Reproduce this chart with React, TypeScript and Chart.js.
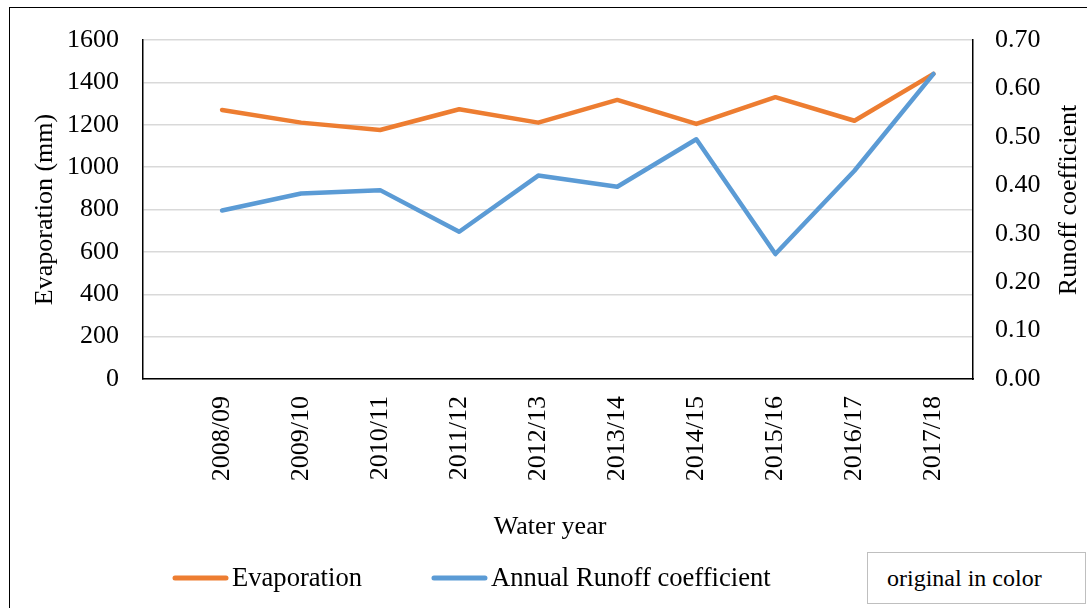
import React, { useEffect, useRef } from 'react';
import { Chart, registerables } from 'chart.js';

Chart.register(...registerables);

const FONT = '"Liberation Serif", "Times New Roman", Times, serif';

const years = ['2008/09', '2009/10', '2010/11', '2011/12', '2012/13', '2013/14', '2014/15', '2015/16', '2016/17', '2017/18'];
const evaporation = [1270, 1210, 1175, 1273, 1210, 1317, 1204, 1330, 1219, 1440];
const runoff = [0.348, 0.383, 0.39, 0.304, 0.42, 0.397, 0.495, 0.258, 0.43, 0.63];
const evapTicks = [0, 200, 400, 600, 800, 1000, 1200, 1400, 1600];
const runoffTicks = [0, 0.1, 0.2, 0.3, 0.4, 0.5, 0.6, 0.7];

const xTitle = 'Water year';
const rightTitle = 'Runoff coefficient';

const ORANGE = '#ED7D31';
const BLUE = '#5B9BD5';

export default function App() {
  const ref = useRef<HTMLCanvasElement>(null);

  useEffect(() => {
    if (!ref.current) return;
    const decorPlugin = {
      id: 'decor',
      afterDraw(chart: any) {
        const ctx = chart.ctx;
        ctx.save();
        // legend
        ctx.font = `26.6px ${FONT}`;
        ctx.textBaseline = 'middle';
        ctx.textAlign = 'left';
        let x = 173;
        const y = 578;
        chart.data.datasets.forEach((ds: any) => {
          ctx.strokeStyle = ds.borderColor;
          ctx.lineWidth = 5;
          ctx.lineCap = 'round';
          ctx.beginPath();
          ctx.moveTo(x + 2, y);
          ctx.lineTo(x + 53, y);
          ctx.stroke();
          ctx.fillStyle = '#000';
          ctx.fillText(ds.label, x + 59, y + 1);
          x += 59 + ctx.measureText(ds.label).width + 70;
        });
        // axis titles
        ctx.font = `26px ${FONT}`;
        ctx.textAlign = 'center';
        ctx.fillStyle = '#000';
        ctx.fillText(xTitle, 550, 527);
        ctx.translate(1069, 200);
        ctx.rotate(-Math.PI / 2);
        ctx.fillText(rightTitle, 0, 0);
        ctx.restore();
      },
    };

    const chart = new Chart(ref.current, {
      type: 'line',
      data: {
        datasets: [
          {
            label: 'Evaporation',
            data: evaporation.map((v, i) => ({ x: i, y: v })),
            borderColor: ORANGE,
            backgroundColor: ORANGE,
            borderWidth: 4.5,
            pointRadius: 0,
            borderCapStyle: 'round',
            borderJoinStyle: 'round',
            tension: 0,
            yAxisID: 'y',
            order: 1,
          },
          {
            label: 'Annual Runoff coefficient',
            data: runoff.map((v, i) => ({ x: i, y: v })),
            borderColor: BLUE,
            backgroundColor: BLUE,
            borderWidth: 4.5,
            pointRadius: 0,
            borderCapStyle: 'round',
            borderJoinStyle: 'round',
            tension: 0,
            yAxisID: 'y1',
            order: 0,
          },
        ],
      },
      options: {
        responsive: false,
        animation: false,
        devicePixelRatio: 1,
        layout: { padding: { top: 40, left: 0, right: 0, bottom: 0 } },
        plugins: {
          legend: { display: false },
          tooltip: { enabled: false },
        },
        scales: {
          x: {
            type: 'linear',
            position: 'bottom',
            min: -1,
            max: 9.5,
            afterBuildTicks: (scale: any) => {
              scale.ticks = years.map((_, i) => ({ value: i }));
            },
            afterFit: (scale: any) => {
              scale.height = 229;
            },
            ticks: {
              autoSkip: false,
              minRotation: 90,
              maxRotation: 90,
              padding: 17,
              color: '#000',
              font: { family: FONT, size: 26 },
              callback: (v: any) => years[v] ?? '',
            },
            grid: { display: false, drawTicks: false },
            border: { display: true, color: '#000', width: 1.5 },
            title: { display: false },
          },
          y: {
            type: 'linear',
            position: 'left',
            min: 0,
            max: 1600,
            afterBuildTicks: (scale: any) => {
              scale.ticks = evapTicks.map((v) => ({ value: v }));
            },
            afterFit: (scale: any) => {
              scale.width = 143;
            },
            ticks: {
              padding: 24,
              color: '#000',
              font: { family: FONT, size: 26 },
              callback: (v: any) => String(v),
            },
            grid: { color: '#d9d9d9', lineWidth: 1.5, drawTicks: false },
            border: { display: true, color: '#000', width: 1.5 },
            title: {
              display: true,
              text: 'Evaporation (mm)',
              color: '#000',
              font: { family: FONT, size: 26, lineHeight: 1.2 },
              padding: { top: 30, bottom: 0 },
            },
          },
          y1: {
            type: 'linear',
            position: 'right',
            min: 0,
            max: 0.7,
            afterBuildTicks: (scale: any) => {
              scale.ticks = runoffTicks.map((v) => ({ value: v }));
            },
            afterFit: (scale: any) => {
              scale.width = 114;
            },
            ticks: {
              padding: 22,
              color: '#000',
              font: { family: FONT, size: 26 },
              callback: (v: any) => Number(v).toFixed(2),
            },
            grid: { drawOnChartArea: false, drawTicks: false },
            border: { display: true, color: '#000', width: 1.5 },
            title: { display: false },
          },
        },
      } as any,
      plugins: [decorPlugin],
    });
    return () => chart.destroy();
  }, []);

  return (
    <div
      style={{
        position: 'absolute',
        left: 0,
        top: 0,
        width: 1087,
        height: 608,
        overflow: 'hidden',
        background: '#fff',
      }}
    >
      <canvas
        ref={ref}
        width={1087}
        height={608}
        style={{ position: 'absolute', left: 0, top: 0, width: 1087, height: 608 }}
      />
      <div
        style={{
          position: 'absolute',
          left: 9,
          top: 7,
          width: 1200,
          height: 700,
          border: '1.5px solid #000',
          boxSizing: 'border-box',
          pointerEvents: 'none',
        }}
      />
      <div
        style={{
          position: 'absolute',
          left: 867,
          top: 552,
          width: 219,
          height: 52,
          border: '1px solid #bfbfbf',
          boxSizing: 'border-box',
          background: '#fff',
          display: 'flex',
          alignItems: 'center',
          paddingLeft: 19,
          fontFamily: FONT,
          fontSize: 24,
          color: '#000',
          whiteSpace: 'nowrap',
        }}
      >
        original in color
      </div>
    </div>
  );
}
